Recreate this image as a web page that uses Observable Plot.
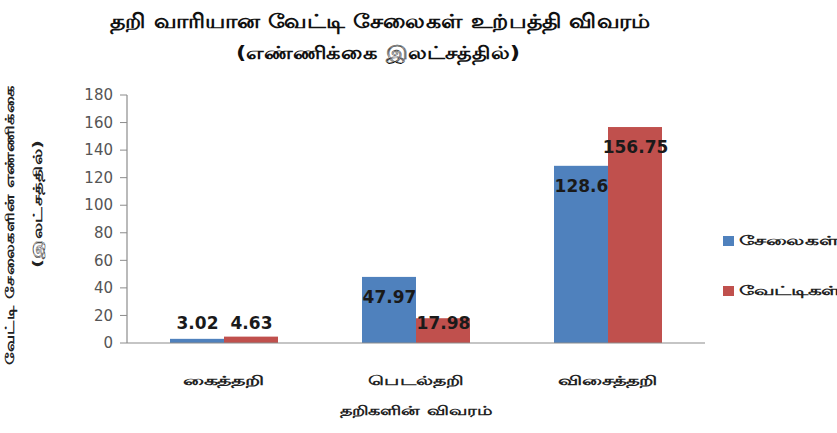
<!DOCTYPE html>
<html>
<head>
<meta charset="utf-8">
<script src="https://cdn.jsdelivr.net/npm/d3@7"></script>
<script src="https://cdn.jsdelivr.net/npm/@observablehq/plot@0.6"></script>
<style>
  html, body { margin: 0; padding: 0; background: #fff; overflow: hidden; }
  #chart { width: 837px; height: 433px; }
</style>
</head>
<body>
<div id="chart"></div>
<script>
const categories = ["கைத்தறி", "பெடல்தறி", "விசைத்தறி"];
const seriesNames = ["சேலைகள்", "வேட்டிகள்"];
const sareeValues = [3.02, 47.97, 128.6];
const veshtiValues = [4.63, 17.98, 156.75];
const yTicks = [0, 20, 40, 60, 80, 100, 120, 140, 160, 180];
const colors = ["#4f81bd", "#c0504d"];
const titleText = "தறி வாரியான வேட்டி சேலைகள் உற்பத்தி விவரம்";
const subtitleText = "(எண்ணிக்கை இலட்சத்தில்)";
const yLabelLines = ["வேட்டி சேலைகளின் எண்ணிக்கை", "(இலட்சத்தில்)"];
const xLabelText = "தறிகளின் விவரம்";

const data = [];
categories.forEach((c, i) => {
  data.push({cat: c, series: seriesNames[0], value: sareeValues[i]});
  data.push({cat: c, series: seriesNames[1], value: veshtiValues[i]});
});

const font = "DejaVu Sans, sans-serif";

const chart = Plot.plot({
  width: 837,
  height: 433,
  marginLeft: 127,
  marginRight: 132,
  marginTop: 95,
  marginBottom: 90,
  style: {fontFamily: font, background: "#fff", overflow: "visible"},
  fx: {domain: categories, paddingInner: 0.43, paddingOuter: 0.215, axis: null, label: null},
  x: {domain: seriesNames, padding: 0, axis: null},
  y: {domain: [0, 180], ticks: yTicks, label: null, axis: null},
  color: {domain: seriesNames, range: colors},
  marks: [
    Plot.barY(data, {fx: "cat", x: "series", y: "value", fill: "series"}),
    Plot.text(data, {
      fx: "cat", x: "series",
      y: d => Math.max(d.value - 14.5, 14.5),
      text: d => String(d.value),
      fontSize: 17, fontWeight: "bold", fill: "#1a1a1a"
    })
  ]
});

document.getElementById("chart").appendChild(chart);

const svg = d3.select(chart);
const y = chart.scale("y");
const fx = chart.scale("fx");
const y0 = y.apply(0), yTop = y.apply(180);
const left = 127, right = 837 - 132;

function txt(x, yy, s, opts) {
  const t = svg.append("text").attr("x", x).attr("y", yy)
    .attr("text-anchor", opts.anchor || "middle")
    .attr("dy", opts.dy || "0.35em")
    .attr("font-size", opts.size).attr("font-weight", opts.weight || "bold")
    .attr("fill", opts.fill || "#222").attr("font-family", font).text(s);
  if (opts.len) t.attr("textLength", opts.len).attr("lengthAdjust", "spacingAndGlyphs");
  if (opts.transform) t.attr("transform", opts.transform);
  return t;
}

// baseline
svg.append("line").attr("x1", left).attr("x2", right).attr("y1", y0).attr("y2", y0)
  .attr("stroke", "#8c8c8c").attr("stroke-width", 1.2);
// y axis line + ticks + labels
svg.append("line").attr("x1", left).attr("x2", left).attr("y1", yTop).attr("y2", y0)
  .attr("stroke", "#8c8c8c").attr("stroke-width", 1.2);
yTicks.forEach(t => {
  const ty = y.apply(t);
  svg.append("line").attr("x1", left - 7).attr("x2", left).attr("y1", ty).attr("y2", ty)
    .attr("stroke", "#8c8c8c");
  txt(left - 14, ty, t, {anchor: "end", size: 15, weight: "normal", fill: "#555"});
});

// category labels
const catLens = [81, 95, 100];
categories.forEach((c, i) => {
  const cx = fx.apply(c) + fx.bandwidth / 2;
  txt(cx, 381, c, {size: 12.5, len: catLens[i], fill: "#222"});
});

// titles
txt(380, 21, titleText, {size: 20, len: 540, fill: "#111"});
txt(378, 53, subtitleText, {size: 18, len: 284, fill: "#111"});

// y label
const yLabelPos = [[10, 225, 280], [38, 204, 128]];
yLabelLines.forEach((s, i) => {
  const [lx, ly, ll] = yLabelPos[i];
  txt(0, 0, s, {size: 12, len: ll, transform: `translate(${lx},${ly}) rotate(-90)`});
});

// x label
txt((left + right) / 2, 411, xLabelText, {size: 12.5, len: 152});

// legend
const legendLens = [100, 102];
seriesNames.forEach((s, i) => {
  const ly = 241 + i * 50;
  svg.append("rect").attr("x", 723).attr("y", ly - 5).attr("width", 11).attr("height", 10)
    .attr("fill", colors[i]);
  txt(739, ly, s, {anchor: "start", size: 12.5, len: legendLens[i]});
});
</script>
</body>
</html>
